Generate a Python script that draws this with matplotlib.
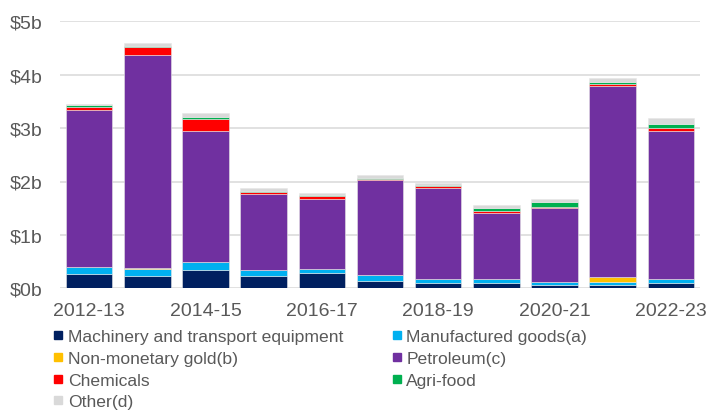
import matplotlib
matplotlib.use("Agg")
import matplotlib.pyplot as plt
from matplotlib.lines import Line2D
import numpy as np

plt.rcParams['font.family'] = ['Liberation Sans', 'DejaVu Sans']

years = ['2012-13', '2013-14', '2014-15', '2015-16', '2016-17', '2017-18',
         '2018-19', '2019-20', '2020-21', '2021-22', '2022-23']
machinery = [0.26, 0.23, 0.34, 0.23, 0.29, 0.14, 0.09, 0.09, 0.06, 0.06, 0.09]
manufactured = [0.14, 0.14, 0.16, 0.11, 0.07, 0.10, 0.09, 0.09, 0.06, 0.05, 0.08]
gold = [0.00, 0.01, 0.00, 0.00, 0.01, 0.00, 0.00, 0.00, 0.00, 0.10, 0.01]
petroleum = [2.94, 3.98, 2.45, 1.43, 1.30, 1.78, 1.70, 1.23, 1.39, 3.58, 2.77]
chemicals = [0.05, 0.15, 0.22, 0.04, 0.05, 0.02, 0.03, 0.04, 0.02, 0.03, 0.05]
agri = [0.04, 0.02, 0.03, 0.02, 0.03, 0.03, 0.03, 0.05, 0.08, 0.04, 0.08]
other = [0.02, 0.06, 0.08, 0.05, 0.03, 0.06, 0.04, 0.06, 0.06, 0.08, 0.10]

series_names = ['Machinery and transport equipment', 'Manufactured goods(a)',
                'Non-monetary gold(b)', 'Petroleum(c)', 'Chemicals', 'Agri-food', 'Other(d)']
series_values = [machinery, manufactured, gold, petroleum, chemicals, agri, other]
colors = ['#002060', '#00B0F0', '#FFC000', '#7030A0', '#FF0000', '#00B050', '#D9D9D9']

yticks = [0, 1, 2, 3, 4, 5]
ytick_labels = ['$0b', '$1b', '$2b', '$3b', '$4b', '$5b']

fig = plt.figure(figsize=(7.07, 4.14), dpi=100)
ax = fig.add_axes([60/707, 1-289.3/414, 640/707, (289.3-22.3)/414])

x = np.arange(len(years))
bottom = np.zeros(len(years))
for name, vals, c in zip(series_names, series_values, colors):
    v = np.array(vals)
    ax.bar(x, v, 0.8, bottom=bottom, color=c, edgecolor='#E6E6E6', linewidth=0.4, zorder=3)
    bottom += v

ax.set_xlim(-0.5, len(years) - 0.5)
ax.set_ylim(0, 5)
ax.set_yticks(yticks)
ax.set_yticklabels(ytick_labels)
ax.set_xticks(x[::2])
ax.set_xticklabels(years[::2])
ax.grid(axis='y', color='#D9D9D9', linewidth=1.1, zorder=0)
ax.set_axisbelow(True)
for s in ax.spines.values():
    s.set_visible(False)
ax.tick_params(axis='both', length=0, labelsize=14, labelcolor='#595959')
ax.tick_params(axis='y', pad=12.7)
ax.tick_params(axis='x', pad=10)

handles = [Line2D([], [], marker='s', linestyle='', markersize=5.2,
                  markerfacecolor=c, markeredgecolor=c) for c in colors]
order = [0, 2, 4, 6, 1, 3, 5]
leg = fig.legend([handles[i] for i in order], [series_names[i] for i in order],
                 ncol=2, loc='upper left', bbox_to_anchor=(54/707, 1-330/414),
                 frameon=False, fontsize=12.6, handlelength=0.5, handletextpad=0.3,
                 columnspacing=2.8, labelspacing=0.37, borderpad=0, borderaxespad=0)
for t in leg.get_texts():
    t.set_color('#595959')

fig.savefig('out.png', dpi=100)
